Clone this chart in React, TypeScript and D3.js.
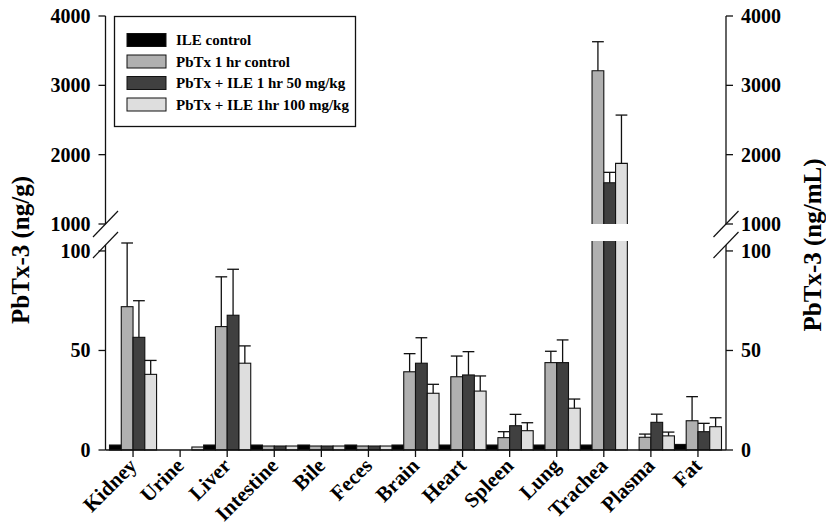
import React from "react";
import * as d3 from "d3";

// organs / sample types along the x axis
const categories = [
  "Kidney", "Urine", "Liver", "Intestine", "Bile", "Feces", "Brain",
  "Heart", "Spleen", "Lung", "Trachea", "Plasma", "Fat",
];

const seriesNames = [
  "ILE control",
  "PbTx 1 hr control",
  "PbTx + ILE 1 hr 50 mg/kg",
  "PbTx + ILE 1hr 100 mg/kg",
];

// PbTx-3 concentrations (ng/g or ng/mL)
const ileControl = [2.5, 0, 2.5, 2.5, 2.5, 2.5, 2.5, 2.5, 2.5, 2.5, 2.5, 0, 2.8];
const pbtxControl = [72, 0, 62, 2, 2, 2, 39.3, 36.8, 6.2, 43.9, 3211, 6.4, 14.7];
const ile50 = [56.6, 0, 67.7, 2, 2, 2, 43.6, 37.7, 12.2, 43.9, 1595, 13.9, 9.2];
const ile100 = [38, 1.5, 43.6, 2, 2, 2, 28.5, 29.6, 9.7, 21, 1874, 7.1, 11.7];

// upward error bars (SD); 0 = none drawn
const ileControlErr = [0, 0, 0, 0, 0, 0, 0, 0, 0, 0, 0, 0, 0];
const pbtxControlErr = [32, 0, 25, 0, 0, 0, 9.1, 10.4, 3, 5.7, 418, 1.6, 12.1];
const ile50Err = [18.4, 0, 23.1, 0, 0, 0, 12.8, 11.7, 5.7, 11.4, 150, 4.1, 4.2];
const ile100Err = [7, 0, 8.7, 0, 0, 0, 4.5, 7.6, 4, 4.6, 697, 1.9, 4.5];

const lowTicks = [0, 50, 100];
const highTicks = [1000, 2000, 3000, 4000];

const seriesValues = [ileControl, pbtxControl, ile50, ile100];
const seriesErrors = [ileControlErr, pbtxControlErr, ile50Err, ile100Err];
const colors = ["#000000", "#b0b0b0", "#404040", "#dedede"];

const W = 826;
const H = 529;
const FONT = "'Liberation Serif', 'Times New Roman', serif";

const App = () => {
  const axisL = 105.5;
  const axisR = 726;
  const lowMax = 105;

  const x = d3.scaleBand<string>().domain(categories).range([109.5, 721.5]);
  const xs = d3
    .scaleBand<number>()
    .domain([0, 1, 2, 3])
    .range([0, x.bandwidth()]);

  const yLow = d3.scaleLinear().domain([0, lowMax]).range([450, 241]);
  const yHigh = d3.scaleLinear().domain([1000, 4000]).range([224, 16]);
  const yOf = (v: number) => (v <= lowMax ? yLow(v) : yHigh(v));

  const bars: React.ReactNode[] = [];
  const errs: React.ReactNode[] = [];

  seriesValues.forEach((vals, s) => {
    vals.forEach((v, i) => {
      const x0 = (x(categories[i]) ?? 0) + (xs(s) ?? 0);
      const bw = xs.bandwidth();
      const key = `${s}-${i}`;
      if (v <= lowMax) {
        const top = yLow(v);
        bars.push(
          <rect key={key} x={x0} y={top} width={bw} height={450 - top}
            fill={colors[s]} stroke="#111" strokeWidth={1.1} />
        );
      } else {
        // broken bar: lower piece up to the break, upper piece from 1000
        const lt = yLow(lowMax);
        const ut = yHigh(v);
        const ub = yHigh(1000);
        bars.push(
          <g key={key}>
            <rect x={x0} y={lt} width={bw} height={450 - lt} fill={colors[s]} />
            <path d={`M${x0},${lt}V450H${x0 + bw}V${lt}`} fill="none" stroke="#111" strokeWidth={1.1} />
            <rect x={x0} y={ut} width={bw} height={ub - ut} fill={colors[s]} />
            <path d={`M${x0},${ub}V${ut}H${x0 + bw}V${ub}`} fill="none" stroke="#111" strokeWidth={1.1} />
          </g>
        );
      }
      const e = seriesErrors[s][i];
      if (e > 0) {
        const cx = x0 + bw / 2;
        const y1 = yOf(v);
        const y2 = yOf(v + e);
        errs.push(
          <g key={"e" + key} stroke="#111" strokeWidth={1.3}>
            <line x1={cx} x2={cx} y1={y1} y2={y2} />
            <line x1={x0} x2={x0 + bw} y1={y2} y2={y2} />
          </g>
        );
      }
    });
  });

  const breakMarks = (ax: number) => (
    <g stroke="#111" strokeWidth={1.2}>
      <line x1={ax - 12.5} y1={yHigh(1000) + 13} x2={ax + 12.5} y2={yHigh(1000) - 13} />
      <line x1={ax - 12.5} y1={yHigh(1000) + 34} x2={ax + 12.5} y2={yHigh(1000) + 8} />
    </g>
  );

  const axis = (ax: number, dir: number) => (
    <g>
      <line x1={ax} x2={ax} y1={yHigh(4000)} y2={yHigh(1000)} stroke="#111" strokeWidth={1.3} />
      <line x1={ax} x2={ax} y1={yHigh(1000) + 21} y2={450} stroke="#111" strokeWidth={1.3} />
      {highTicks.map((t) => (
        <g key={"h" + t}>
          <line x1={ax} x2={ax + dir * 7} y1={yHigh(t)} y2={yHigh(t)} stroke="#111" strokeWidth={1.3} />
          <text x={ax + dir * 15} y={yHigh(t)} dy="0.35em"
            textAnchor={dir < 0 ? "end" : "start"}>{t}</text>
        </g>
      ))}
      {lowTicks.map((t) => (
        <g key={"l" + t}>
          <line x1={ax} x2={ax + dir * 7} y1={yLow(t)} y2={yLow(t)} stroke="#111" strokeWidth={1.3} />
          <text x={ax + dir * 15} y={yLow(t)} dy="0.35em"
            textAnchor={dir < 0 ? "end" : "start"}>{t}</text>
        </g>
      ))}
      {breakMarks(ax)}
    </g>
  );

  return (
    <div style={{ position: "absolute", left: 0, top: 0 }}>
      <svg width={W} height={H} fontFamily={FONT} fontWeight="bold" fontSize={20}>
        <rect width={W} height={H} fill="#fff" />
        {bars}
        {errs}
        {/* x axis */}
        <line x1={axisL} x2={axisR} y1={450} y2={450} stroke="#111" strokeWidth={1.3} />
        {categories.map((c) => {
          const cx = (x(c) ?? 0) + x.bandwidth() / 2;
          return (
            <g key={c}>
              <line x1={cx} x2={cx} y1={450} y2={457} stroke="#111" strokeWidth={1.3} />
              <text transform={`translate(${cx + 5},${467}) rotate(-45)`} textAnchor="end" fontSize={21}>
                {c}
              </text>
            </g>
          );
        })}
        {axis(axisL, -1)}
        {axis(axisR, 1)}
        <text transform="translate(29,250) rotate(-90)" textAnchor="middle" fontSize={25}>
          PbTx-3 (ng/g)
        </text>
        <text transform="translate(821,245) rotate(-90)" textAnchor="middle" fontSize={25}>
          PbTx-3 (ng/mL)
        </text>
        {/* legend */}
        <rect x={114.5} y={16.5} width={241} height={110} fill="#fff" stroke="#111" strokeWidth={1.3} />
        {seriesNames.map((n, i) => {
          const cy = 40 + i * 21.5;
          return (
            <g key={n}>
              <rect x={127} y={cy - 6.5} width={39} height={13} fill={colors[i]} stroke="#111" strokeWidth={1} />
              <text x={176} y={cy} dy="0.35em" fontSize={15}>{n}</text>
            </g>
          );
        })}
      </svg>
    </div>
  );
};

export default App;
